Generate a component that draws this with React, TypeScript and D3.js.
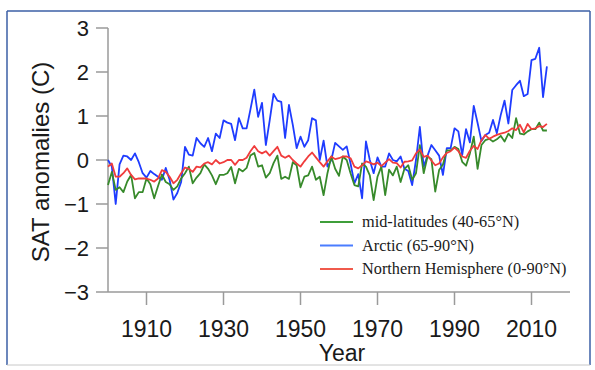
import React from "react";
import * as d3 from "d3";

const startYear = 1900;

const arctic = [
  0.0, -0.15, -1.0, -0.1, 0.1, 0.08, 0.0, 0.15, -0.05, -0.3,
  -0.4, -0.25, -0.32, -0.38, -0.45, -0.18, -0.45, -0.9, -0.75, -0.5,
  0.3, 0.12, 0.1, 0.5, 0.38, 0.3, 0.5, 0.2, 0.6, 0.5,
  0.9, 0.85, 0.82, 0.45, 0.95, 0.72, 0.72, 1.15, 1.6, 0.98,
  1.3, 0.34, 0.9, 1.5, 1.35, 1.32, 0.5, 1.25, 0.8, 0.27,
  0.53, 0.3, 0.45, 0.95, 0.9, 0.0, 0.44, -0.15, 0.0, 0.39,
  0.31, 0.23, 0.31, -0.08, -0.53, -0.32, -0.87, 0.42, 0.0, -0.3,
  0.06, -0.15, -0.15, 0.15, 0.0, -0.03, 0.08, -0.2, -0.25, -0.57,
  0.0, 0.75, -0.15, 0.1, 0.34, 0.22, 0.1, -0.34, 0.27, 0.27,
  0.72, 0.65, 0.11, 0.7, 0.4, 1.23, 0.84, 0.43, 0.57, 0.62,
  0.91, 0.61, 1.02, 1.35, 0.83, 1.59, 1.7, 1.8, 1.45, 1.5,
  2.27, 2.3, 2.55, 1.43, 2.13,
];

const midLat = [
  -0.57, -0.27, -0.68, -0.62, -0.73, -0.49, -0.34, -0.87, -0.73, -0.73,
  -0.42, -0.55, -0.87, -0.59, -0.33, -0.5, -0.55, -0.68, -0.6, -0.42,
  -0.3, -0.15, -0.53, -0.4, -0.3, -0.1, -0.2, -0.35, -0.55, -0.34,
  -0.34, -0.3, -0.16, -0.53, -0.2, -0.26, -0.18, 0.1, 0.16, -0.15,
  -0.12, -0.4, -0.3, -0.07, 0.1, -0.43, -0.38, -0.43, -0.05, -0.12,
  -0.62, -0.38, -0.35, -0.15, -0.45, -0.38, -0.8, -0.3, 0.08, -0.2,
  -0.36, 0.08, 0.0, -0.3, -0.57, -0.6, -0.08, -0.15, -0.35, -0.91,
  -0.38, -0.15, -0.8, -0.22, -0.35, -0.15, -0.5, -0.2, -0.12, -0.45,
  -0.3, 0.34, -0.3, 0.08, 0.02, -0.72, -0.23, -0.1, 0.22, 0.22,
  0.3, 0.25, -0.04, -0.13, 0.15, 0.53, -0.2, 0.34, 0.45, 0.48,
  0.42, 0.47, 0.55, 0.42, 0.6, 0.5, 0.95, 0.6, 0.58, 0.65,
  0.7, 0.7, 0.85, 0.67, 0.67,
];

const northHem = [
  -0.15, -0.08, -0.38, -0.38, -0.3, -0.19, -0.34, -0.44, -0.42, -0.42,
  -0.42, -0.45, -0.49, -0.42, -0.23, -0.27, -0.38, -0.53, -0.45, -0.3,
  -0.17, -0.2, -0.27, -0.15, -0.17, -0.08, -0.05, -0.1, 0.0, -0.08,
  -0.05, 0.0, 0.0, -0.11, 0.0, 0.0, 0.05, 0.2, 0.32, 0.2,
  0.15, 0.2, 0.1, 0.2, 0.3, 0.1, 0.05, 0.1, 0.0, -0.08,
  -0.15, -0.03, 0.08, 0.17, 0.06, -0.05, -0.15, -0.03, 0.08, 0.02,
  0.04, 0.08, 0.08, 0.04, -0.15, -0.19, -0.12, -0.03, -0.06, -0.1,
  -0.06, -0.14, -0.06, 0.02, -0.06, -0.07, -0.17, -0.04, -0.03, -0.01,
  0.15, 0.24, 0.07, 0.1, -0.01, -0.12, -0.08, 0.06, 0.16, 0.2,
  0.28, 0.2, 0.08, 0.05, 0.21, 0.32, 0.25, 0.45, 0.57, 0.48,
  0.53, 0.57, 0.6, 0.62, 0.66, 0.72, 0.68, 0.8, 0.63, 0.82,
  0.7, 0.72, 0.77, 0.75, 0.82,
];

const yTicks = [-3, -2, -1, 0, 1, 2, 3];
const xTicks = [1910, 1930, 1950, 1970, 1990, 2010];

const legendLabels = [
  "mid-latitudes (40-65°N)",
  "Arctic (65-90°N)",
  "Northern Hemisphere (0-90°N)",
];

export default function App() {
  const W = 595, H = 370;
  const x = d3.scaleLinear().domain([1900, 2020]).range([108, 570]);
  const y = d3.scaleLinear().domain([-3, 3]).range([292, 28]);

  const line = d3
    .line<number>()
    .x((_, i) => x(startYear + i))
    .y((v) => y(v));

  const axisColor = "#9a9a9a";
  const series = [
    { data: arctic, color: "#1f3cff" },
    { data: midLat, color: "#378a2b" },
    { data: northHem, color: "#f03c3c" },
  ];
  const legendColors = ["#3f9e3a", "#4a7dff", "#f05a4c"];

  return (
    <div style={{ position: "absolute", left: 0, top: 0 }}>
      <svg width={W} height={H} style={{ display: "block", background: "#fff" }}>
        {/* frame */}
        <line x1={7} y1={11} x2={590} y2={11} stroke="#3b5fa6" strokeWidth={1.5} />
        <line x1={7} y1={11} x2={7} y2={365} stroke="#3b5fa6" strokeWidth={1.5} />
        <line x1={590} y1={11} x2={590} y2={365} stroke="#3b5fa6" strokeWidth={1.5} />
        <line x1={7} y1={365} x2={590} y2={365} stroke="#c8c8c8" strokeWidth={1} />

        {/* y axis */}
        <line x1={108} y1={y(3)} x2={108} y2={y(-3)} stroke={axisColor} strokeWidth={1.5} />
        {yTicks.map((t) => (
          <g key={t}>
            <line x1={96} x2={108} y1={y(t)} y2={y(t)} stroke={axisColor} strokeWidth={1.5} />
            <text
              x={89}
              y={y(t) + 8}
              textAnchor="end"
              fontFamily="Liberation Sans, Arial, sans-serif"
              fontSize={22}
              fill="#1a1a1a"
            >
              {t < 0 ? "\u2212" + Math.abs(t) : String(t)}
            </text>
          </g>
        ))}

        {/* x axis */}
        <line x1={108} y1={292} x2={570} y2={292} stroke={axisColor} strokeWidth={1.5} />
        {xTicks.map((t) => (
          <g key={t}>
            <line x1={x(t)} x2={x(t)} y1={292} y2={305} stroke={axisColor} strokeWidth={1.5} />
            <text
              x={x(t)}
              y={337}
              textAnchor="middle"
              fontFamily="Liberation Sans, Arial, sans-serif"
              fontSize={23}
              fill="#1a1a1a"
            >
              {t}
            </text>
          </g>
        ))}
        <text
          x={342}
          y={361}
          textAnchor="middle"
          fontFamily="Liberation Sans, Arial, sans-serif"
          fontSize={23}
          fill="#1a1a1a"
        >
          Year
        </text>
        <text
          transform="translate(49,162) rotate(-90)"
          textAnchor="middle"
          fontFamily="Liberation Sans, Arial, sans-serif"
          fontSize={24}
          fill="#1a1a1a"
        >
          SAT anomalies (C)
        </text>

        {/* series */}
        {series.map((s, i) => (
          <path
            key={i}
            d={line(s.data) || ""}
            fill="none"
            stroke={s.color}
            strokeWidth={1.8}
            strokeLinejoin="round"
          />
        ))}

        {/* legend */}
        {legendLabels.map((lab, i) => {
          const ly = 222 + i * 23.5;
          return (
            <g key={lab}>
              <line x1={320} x2={353} y1={ly} y2={ly} stroke={legendColors[i]} strokeWidth={1.8} />
              <text
                x={362}
                y={ly + 5}
                fontFamily="Liberation Serif, Times New Roman, serif"
                fontSize={16.3}
                fill="#1a1a1a"
              >
                {lab}
              </text>
            </g>
          );
        })}
      </svg>
    </div>
  );
}
